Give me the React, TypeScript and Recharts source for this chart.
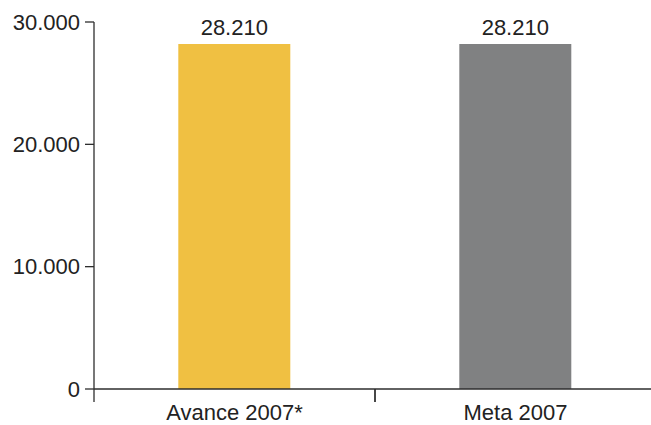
import { BarChart, Bar, XAxis, YAxis, Cell, LabelList } from 'recharts';

const categories = ['Avance 2007*', 'Meta 2007'];
const values = [28210, 28210];
const barColors = ['#F0C042', '#808182'];
const yTicks = [0, 10000, 20000, 30000];

const data = categories.map((name, i) => ({ name, value: values[i] }));

const FONT = '"Liberation Sans", Arial, sans-serif';
const TEXT = '#222';
const AXIS = '#2e2e2e';

const fmt = (v: number | string) =>
  Number(v).toLocaleString('de-DE', { maximumFractionDigits: 0 });

// category label with a tick line on the band boundary (left edge of each band)
function CategoryTick(props: any) {
  const { x, y, payload, width } = props;
  const half = (width ?? 562) / categories.length / 2;
  return (
    <g>
      <line x1={x - half} x2={x - half} y1={y} y2={y + 13} stroke={AXIS} strokeWidth={1.3} />
      <line x1={x + half} x2={x + half} y1={y} y2={y + 13} stroke={AXIS} strokeWidth={1.3} />
      <text x={x} y={y + 31} textAnchor="middle" fill={TEXT} fontSize={22} fontFamily={FONT}>
        {payload.value}
      </text>
    </g>
  );
}

export default function App() {
  return (
    <div
      style={{
        position: 'absolute',
        left: 0,
        top: 0,
        width: 651,
        height: 425,
        overflow: 'hidden',
        background: '#fff',
      }}
    >
      <BarChart
        width={660}
        height={425}
        data={data}
        margin={{ top: 22, right: 4, bottom: 0, left: 0 }}
        barCategoryGap="30%"
      >
        <YAxis
          width={94}
          domain={[0, 30000]}
          ticks={yTicks}
          tickFormatter={fmt}
          tickSize={9}
          tickMargin={5}
          interval={0}
          axisLine={{ stroke: AXIS, strokeWidth: 1.3 }}
          tickLine={{ stroke: AXIS, strokeWidth: 1.3 }}
          tick={{ fill: TEXT, fontSize: 22, fontFamily: FONT }}
        />
        <XAxis
          dataKey="name"
          height={36}
          tickSize={0}
          tickMargin={0}
          interval={0}
          tickLine={false}
          axisLine={{ stroke: AXIS, strokeWidth: 1.3 }}
          tick={<CategoryTick />}
        />
        <Bar dataKey="value" isAnimationActive={false}>
          {data.map((d, i) => (
            <Cell key={d.name} fill={barColors[i]} />
          ))}
          <LabelList
            dataKey="value"
            position="top"
            offset={9}
            formatter={(v: any) => fmt(v)}
            fill={TEXT}
            fontSize={22}
            fontFamily={FONT}
          />
        </Bar>
      </BarChart>
    </div>
  );
}
